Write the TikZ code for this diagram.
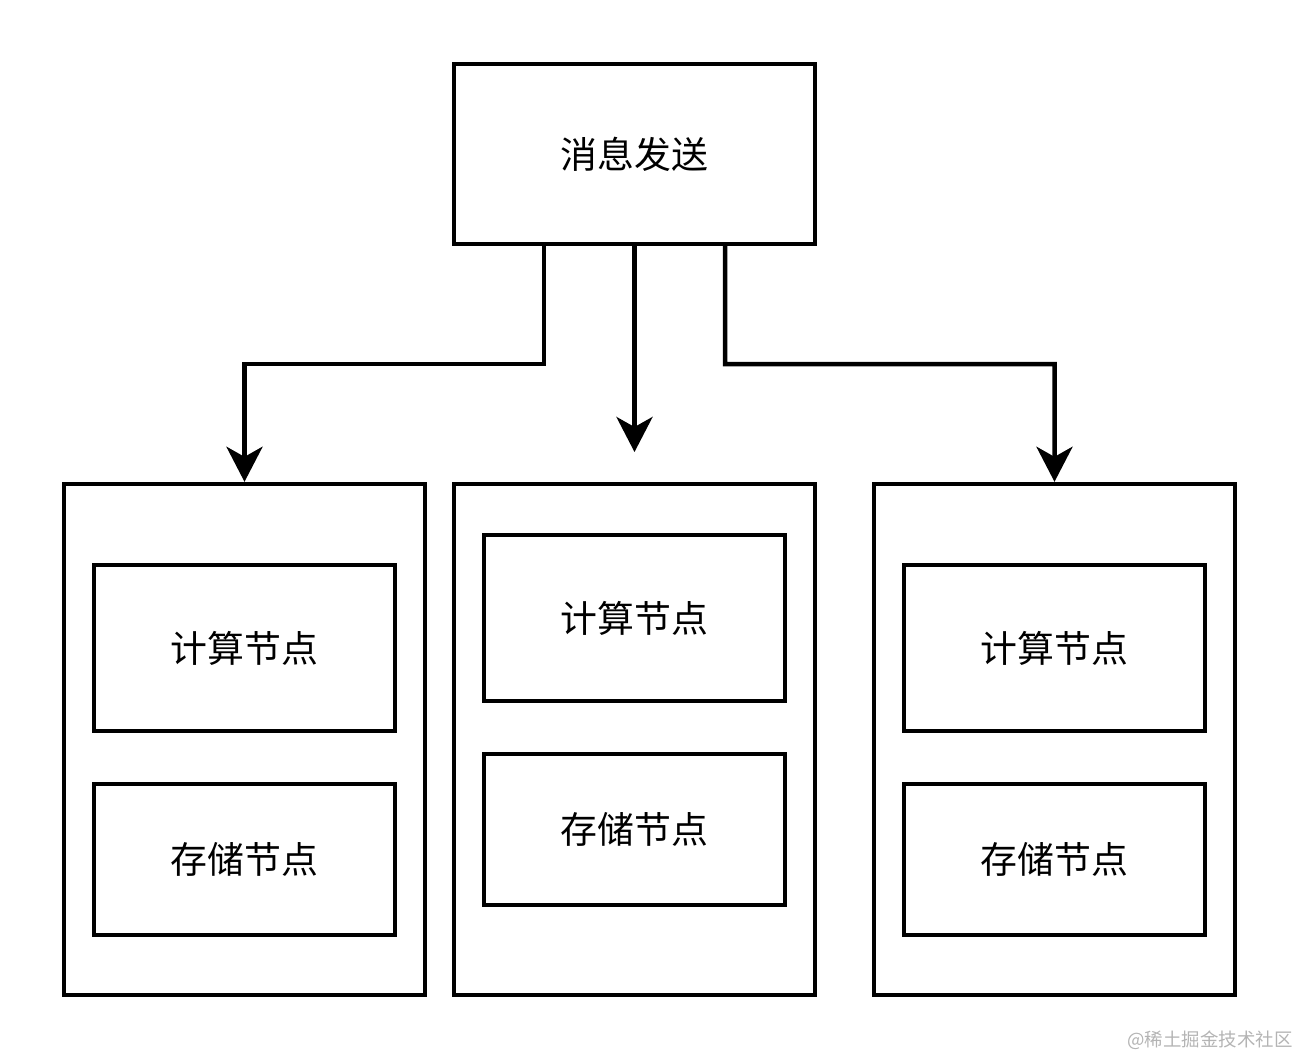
\documentclass[tikz,border=0pt]{standalone}
\usepackage{fontspec}
\setmainfont{Noto Sans CJK SC}
\usepackage{xcolor}
\usetikzlibrary{positioning, arrows.meta, calc}
\definecolor{markgray}{HTML}{B4B4B4}

\tikzset{
  box/.style={draw, line width=0.09cm, minimum width=7.22cm, inner sep=0pt,
              font=\fontsize{21}{24}\selectfont},
  unitbox/.style={draw, line width=0.09cm, minimum width=6.02cm, inner sep=0pt,
              font=\fontsize{21}{24}\selectfont},
  flow/.style={line width=0.09cm, line join=miter,
               -{Stealth[length=0.7cm, width=0.72cm, inset=0.2cm]}}
}

\begin{document}
\begin{tikzpicture}[x=0.02cm, y=-0.02cm]
    \useasboundingbox (0,0) rectangle (1296,1056);

    % sender
    \node[box, minimum height=3.6cm] (send) at (634.5,154) {消息发送};

    % three groups
    \node[box, minimum height=10.22cm] (groupA) at (244.5,739.5) {};
    \node[box, minimum height=10.22cm] (groupB) at (634.5,739.5) {};
    \node[box, minimum height=10.22cm] (groupC) at (1054.5,739.5) {};

    \node[unitbox, minimum height=3.32cm] (computeA) at (244.5,648) {计算节点};
    \node[unitbox, minimum height=3.02cm] (storeA) at (244.5,859.5) {存储节点};
    \node[unitbox, minimum height=3.32cm] (computeB) at (634.5,618) {计算节点};
    \node[unitbox, minimum height=3.02cm] (storeB) at (634.5,829.5) {存储节点};
    \node[unitbox, minimum height=3.32cm] (computeC) at (1054.5,648) {计算节点};
    \node[unitbox, minimum height=3.02cm] (storeC) at (1054.5,859.5) {存储节点};

    % routing
    \coordinate (bendA) at (544,364);
    \coordinate (bendC) at (725,364);
    \coordinate (tipB) at (634.5,452);
    \draw[flow] ($(send.south)+(-90.5,0)$) -- (bendA) -| (groupA.north);
    \draw[flow] (send.south) -- (tipB);
    \draw[flow] ($(send.south)+(90.5,0)$) -- (bendC) -| (groupC.north);

    \node[text=markgray, font=\fontsize{10.5}{12}\selectfont] (mark) at (1210,1040) {@稀土掘金技术社区};
  \end{tikzpicture}
\end{document}
